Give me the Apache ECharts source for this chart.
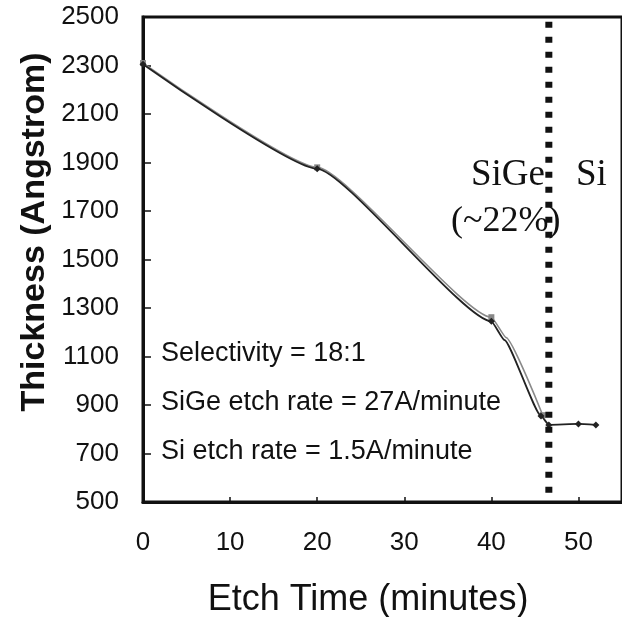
<!DOCTYPE html>
<html>
<head>
<meta charset="utf-8">
<script src="https://cdn.jsdelivr.net/npm/echarts@6/dist/echarts.min.js"></script>
<style>
  html, body { margin: 0; padding: 0; background: #fff; }
  #chart { width: 622px; height: 617px; }
</style>
</head>
<body>
<div id="chart"></div>
<script>
  // dark curve (with the bend before the SiGe/Si interface)
  const etchTimeA = [0, 20, 40, 41.5, 45.7, 46.6, 50, 52]
  const thicknessA = [2305, 1874, 1245, 1168, 855, 818, 822, 818]
  const markedA = [1, 1, 1, 0, 1, 1, 1, 1]
  // lighter second trace, almost on top of the first one
  const etchTimeB = [0, 20, 40, 41.7, 45.9]
  const thicknessB = [2310, 1880, 1262, 1178, 858]
  const markedB = [1, 1, 1, 0, 1]
  // SiGe / Si boundary
  const dividerX = 46.6
  const dividerY = [2480, 500]

  const xMin = 0, xMax = 55, xStep = 10
  const yMin = 500, yMax = 2500, yStep = 200

  const notes = ['Selectivity = 18:1', 'SiGe etch rate = 27A/minute', 'Si etch rate = 1.5A/minute']

  const sans = '"Liberation Sans", Arial, sans-serif'
  const serif = '"Liberation Serif", "Times New Roman", serif'

  const el = document.getElementById('chart')
  const myChart = echarts.init(el, null, { renderer: 'canvas' })

  const dataA = etchTimeA.map((t, i) => ({
    value: [t, thicknessA[i]],
    symbolSize: markedA[i] ? 7 : 0
  }))
  const dataB = etchTimeB.map((t, i) => ({
    value: [t, thicknessB[i]],
    symbolSize: markedB[i] ? 6 : 0
  }))

  const option = {
    animation: false,
    backgroundColor: '#fff',
    grid: {
      left: 143,
      top: 17,
      width: 495,
      height: 485,
      show: true,
      borderColor: '#111',
      borderWidth: 3,
      containLabel: false
    },
    xAxis: {
      type: 'value',
      min: xMin,
      max: xMax,
      interval: xStep,
      splitLine: { show: false },
      axisLine: { show: true, lineStyle: { color: '#111', width: 3 } },
      axisTick: { show: true, inside: true, length: 5, lineStyle: { color: '#111', width: 1.5 } },
      axisLabel: {
        color: '#111',
        fontSize: 26,
        fontFamily: sans,
        margin: 28,
        showMaxLabel: false
      }
    },
    yAxis: {
      type: 'value',
      min: yMin,
      max: yMax,
      interval: yStep,
      splitLine: { show: false },
      axisLine: { show: true, lineStyle: { color: '#111', width: 3 } },
      axisTick: { show: true, inside: true, length: 8, lineStyle: { color: '#111', width: 1.5 } },
      axisLabel: {
        color: '#111',
        fontSize: 26,
        fontFamily: sans,
        margin: 24,
        padding: [5, 0, 0, 0],
        formatter: v => String(v)
      }
    },
    series: [
      {
        type: 'line',
        data: dataB,
        smooth: 0.15,
        smoothMonotone: 'x',
        symbol: 'rect',
        itemStyle: { color: '#888' },
        lineStyle: { color: '#8a8a8a', width: 1.6 },
        z: 2
      },
      {
        type: 'line',
        data: dataA,
        smooth: 0.15,
        smoothMonotone: 'x',
        symbol: 'diamond',
        itemStyle: { color: '#222' },
        lineStyle: { color: '#222', width: 1.8 },
        z: 3
      },
      {
        type: 'line',
        data: dividerY.map(v => [dividerX, v]),
        symbol: 'none',
        lineStyle: { color: '#111', width: 7, type: [6, 9], cap: 'butt' },
        z: 4
      }
    ],
    graphic: [
      {
        type: 'text',
        x: 35,
        y: 232,
        rotation: Math.PI / 2,
        style: {
          x: 0, y: 0,
          text: 'Thickness (Angstrom)',
          font: 'bold 34px ' + sans,
          fill: '#111',
          align: 'center',
          verticalAlign: 'middle'
        }
      },
      {
        type: 'text',
        style: {
          x: 368, y: 600,
          text: 'Etch Time (minutes)',
          font: '36px ' + sans,
          fill: '#111',
          align: 'center',
          verticalAlign: 'middle'
        }
      },
      {
        type: 'text',
        style: { x: 471, y: 175, text: 'SiGe', font: '37px ' + serif, fill: '#111', verticalAlign: 'middle' }
      },
      {
        type: 'text',
        style: { x: 576, y: 175, text: 'Si', font: '37px ' + serif, fill: '#111', verticalAlign: 'middle' }
      },
      {
        type: 'text',
        style: { x: 451, y: 222, text: '(~22%)', font: '36px ' + serif, fill: '#111', verticalAlign: 'middle' }
      }
    ].concat(notes.map((t, i) => ({
      type: 'text',
      style: {
        x: 161,
        y: 354 + i * 49,
        text: t,
        font: '27px ' + sans,
        fill: '#111',
        verticalAlign: 'middle'
      }
    })))
  }

  myChart.setOption(option)
</script>
</body>
</html>
